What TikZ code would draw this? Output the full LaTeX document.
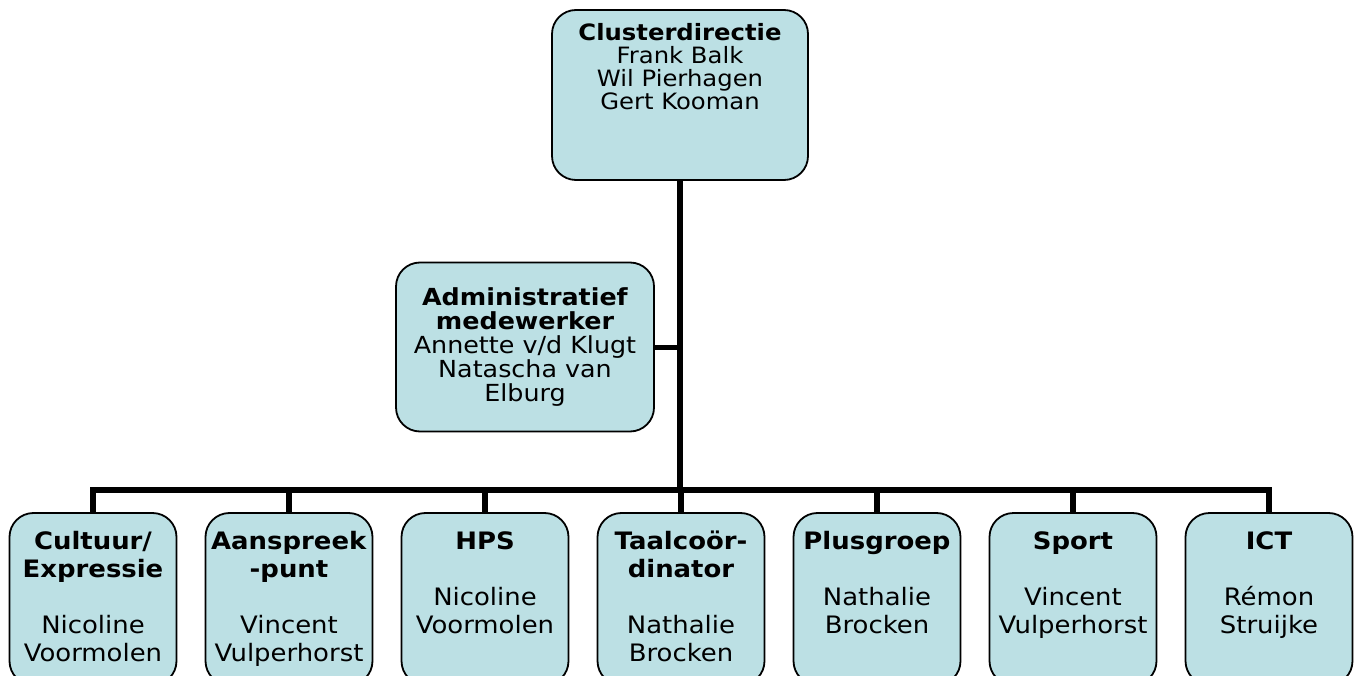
\documentclass[tikz,border=0pt]{standalone}
\usepackage{fontspec}
\setmainfont{DejaVu Sans}[FakeStretch=1.08]
\usepackage{tikz}

\definecolor{boxfill}{RGB}{188,224,228}
\newcommand\dirfont{\fontsize{22.5pt}{23pt}\selectfont}
\newcommand\admfont{\fontsize{23.5pt}{24pt}\selectfont}
\newcommand\unitfont{\fontsize{24pt}{28pt}\selectfont}

\tikzset{
  unit/.style={draw, fill=boxfill, line width=1.8pt, rounded corners=24pt, inner sep=0pt},
  txt/.style={align=center, inner sep=0pt, anchor=north},
  link/.style={line width=6.5pt},
}

\begin{document}
\begin{tikzpicture}[x=1pt,y=-1pt]
\useasboundingbox (0,0) rectangle (1360,676);
% top of the chart
\node[unit, minimum width=256pt, minimum height=170pt] (dir) at (680,95) {};
\node[txt, font=\dirfont] (dirtxt) at ([yshift=-14pt]dir.north)
  {\textbf{Clusterdirectie}\\Frank Balk\\Wil Pierhagen\\Gert Kooman};
\node[unit, minimum width=258pt, minimum height=169pt, align=center, font=\admfont] (adm) at (525,347)
  {\textbf{Administratief}\\\textbf{medewerker}\\Annette v/d Klugt\\Natascha van\\Elburg};
% bottom row
\foreach \i/\title/\names in {
  0/{\textbf{Cultuur/}\\\textbf{Expressie}}/{Nicoline\\Voormolen},
  1/{\textbf{Aanspreek}\\\textbf{-punt}}/{Vincent\\Vulperhorst},
  2/{\textbf{HPS}}/{Nicoline\\Voormolen},
  3/{\textbf{Taalcoör-}\\\textbf{dinator}}/{Nathalie\\Brocken},
  4/{\textbf{Plusgroep}}/{Nathalie\\Brocken},
  5/{\textbf{Sport}}/{Vincent\\Vulperhorst},
  6/{\textbf{ICT}}/{Rémon\\Struijke}}
{
  \node[unit, minimum width=167pt, minimum height=172pt] (u\i) at ({93+196*\i},599) {};
  \node[txt, font=\unitfont] (t\i) at ([yshift=-19pt]u\i.north) {\title\\[28pt]\names};
}
% connectors
\coordinate (fork) at (680,490);
\draw[link] (dir) -- (fork);
\draw[link] (u0) |- (fork) -| (u6);
\foreach \i in {1,...,5}
  \draw[link] (u\i) -- (u\i |- fork);
\draw[link, line width=5pt] (adm) -- (adm -| fork);
\end{tikzpicture}
\end{document}
